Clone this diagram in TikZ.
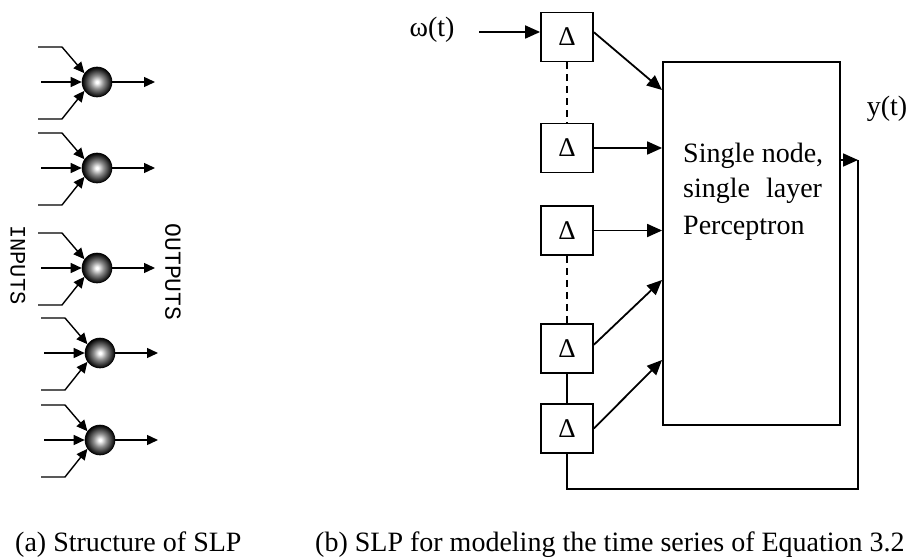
\documentclass[tikz,border=0pt]{standalone}
\usepackage{fontspec}
\setmainfont{Liberation Serif}
\newfontfamily\monofont{Liberation Mono}
\usetikzlibrary{arrows.meta}
\pgfdeclareradialshading{neuronball}{\pgfpoint{0bp}{0bp}}{color(0bp)=(white); color(2bp)=(white); color(11bp)=(black!45); color(21bp)=(black!85); color(25bp)=(black); color(50bp)=(black)}
\begin{document}
\begin{tikzpicture}[x=1pt,y=-1pt,
  lp/.style={line width=1.4pt},
  la/.style={lp,-{Triangle[length=11pt,width=10pt]}},
  neuron/.style={circle,minimum size=30pt,inner sep=0pt,shade,shading=neuronball,draw=black,line width=0.6pt},
  rp/.style={line width=1.8pt},
  ra/.style={rp,-{Triangle[length=15pt,width=13pt]}},
  delay/.style={draw,rp,minimum width=52pt,minimum height=49pt,inner sep=0pt,font=\fontsize{27}{30}\selectfont},
  txt/.style={font=\fontsize{28}{32}\selectfont,inner sep=0pt},
  mono/.style={font=\monofont\fontsize{22}{22}\selectfont,inner sep=0pt,rotate=-90}]
\useasboundingbox (0,0) rectangle (909,559);

% ---------- (a) structure of SLP ----------
\foreach \i/\cx/\cy in {1/97/82,2/97/168,3/97/268,4/100/353,5/100/440}{
  \node[neuron] (n\i) at (\cx,\cy) {};
  \coordinate (ta\i) at (\cx-59,\cy-35);
  \coordinate (tb\i) at (\cx-35,\cy-35);
  \coordinate (ma\i) at (\cx-56,\cy);
  \coordinate (ba\i) at (\cx-59,\cy+37);
  \coordinate (bb\i) at (\cx-35,\cy+37);
  \coordinate (o\i) at (\cx+58,\cy);
  \draw[la] (ta\i) -- (tb\i) -- (n\i.145);
  \draw[la] (ma\i) -- (n\i.west);
  \draw[la] (ba\i) -- (bb\i) -- (n\i.215);
  \draw[la] (n\i.east) -- (o\i);
}
\node[mono] (inlab) at (18,265) {INPUTS};
\node[mono,font=\monofont\fontsize{23}{23}\selectfont] (outlab) at (173,272) {OUTPUTS};

% ---------- (b) SLP for time series ----------
\node[delay] (b1) at (567,37) {Δ};
\node[delay] (b2) at (567,148) {Δ};
\node[delay] (b3) at (567,230.5) {Δ};
\node[delay] (b4) at (567,348.5) {Δ};
\node[delay] (b5) at (567,428.5) {Δ};
\node[draw,rp,minimum width=177pt,minimum height=363pt,inner sep=0pt] (big) at (751.5,243.5) {};

\node[txt,anchor=base west] (p1) at (683,162) {Single node,};
\node[txt,anchor=base west] (p2) at (683,197) {single\hspace{16pt}layer};
\node[txt,anchor=base west] (p3) at (683,234) {Perceptron};

\node[txt,anchor=base] (w) at (432,37) {ω(t)};
\coordinate (w0) at (479,32);
\draw[ra] (w0) -- (w0 -| b1.west);

\node[txt,anchor=base] (y) at (887,116) {y(t)};

\draw[rp,dash pattern=on 7pt off 5pt] (b1.south) -- (b2.north);
\draw[rp,dash pattern=on 7pt off 5pt] (b3.south) -- (b4.north);
\draw[rp] (b4.south) -- (b5.north);

\coordinate (t1) at (662,90);
\coordinate (t4) at (662,280);
\coordinate (t5) at (662,360);
\draw[ra] (b1.10) -- (t1);
\draw[ra] (b2.east) -- (b2.east -| big.west);
\draw[ra] (b3.east) -- (b3.east -| big.west);
\draw[ra] (b4.8) -- (t4);
\draw[ra] (b5.east) -- (t5);

\coordinate (fb) at (858,160);
\coordinate (fbot) at (858,489);
\draw[ra] (big.east |- fb) -- (fb);
\draw[rp] (fb) -- (fbot) -| (b5.south);

% ---------- captions ----------
\node[txt,anchor=base west] (capa) at (15,551) {(a) Structure of SLP};
\node[txt,anchor=base west] (capb) at (315,551) {(b) SLP for modeling the time series of Equation 3.2};
\end{tikzpicture}
\end{document}
